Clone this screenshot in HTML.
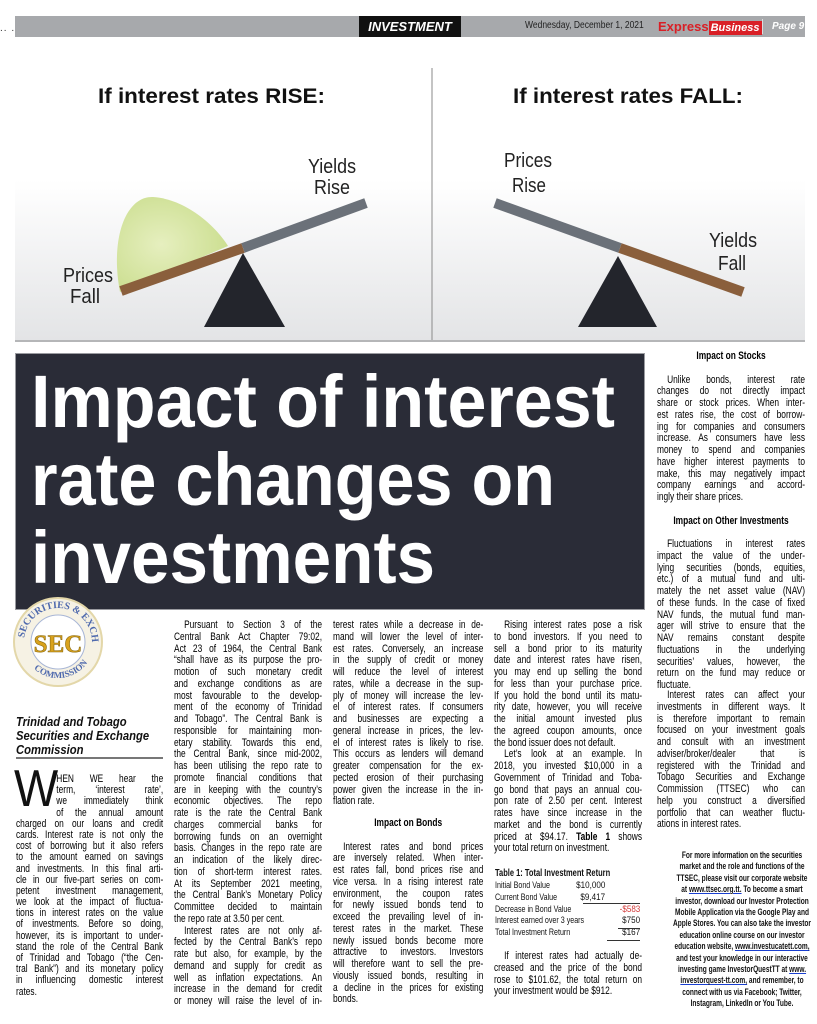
<!DOCTYPE html>
<html style="height:1024px;overflow:hidden"><head><meta charset="utf-8">
<style>
*{margin:0;padding:0;box-sizing:border-box}
body{width:817px;height:1024px;background:#fff;position:relative;overflow:hidden;font-family:"Liberation Sans",Arial,sans-serif;color:#000}
.abs{position:absolute}
.col{position:absolute;transform-origin:0 0;font-size:10.8px;line-height:11.75px}
.col div{height:11.75px;overflow:hidden;text-align:justify;text-align-last:justify;white-space:normal}
.col div.e{text-align-last:left}
.col div.i{text-indent:13px}
.col div.c{text-align:center;text-align-last:center;font-weight:bold}
.small{position:absolute;transform-origin:0 0;font-size:9.4px;line-height:11.4px;text-align:center;font-weight:bold;color:#111;white-space:nowrap}
.small a{color:#111;text-decoration:underline;text-decoration-color:#1a3fd0}
</style></head><body>

<!-- header -->
<div class="abs" style="left:0;top:23px;font-size:10px;letter-spacing:1px;color:#333">.. . . . .. . .</div>
<div class="abs" style="left:15px;top:16px;width:790px;height:21px;background:#a7a9ac"></div>
<div class="abs" style="left:359px;top:16px;width:102px;height:21px;background:#111;color:#fff;font-weight:bold;font-style:italic;font-size:13px;line-height:21px;text-align:center">INVESTMENT</div>
<div class="abs" style="left:525px;top:19px;font-size:10px;color:#222;line-height:14px;transform:scaleX(.85);transform-origin:0 0;white-space:nowrap">Wednesday, December 1, 2021</div>
<div class="abs" style="left:658px;top:18px;height:17px;width:97px;font-weight:bold;font-size:13px;line-height:17px;white-space:nowrap"><span style="color:#d91f26">Express</span><span style="background:#d91f26;color:#fff;font-style:italic;font-size:11px;padding:1px 2px">Business</span></div>
<div class="abs" style="left:762px;top:19px;width:1px;height:15px;background:#ddd"></div>
<div class="abs" style="left:772px;top:19px;font-size:10px;color:#fff;font-weight:bold;font-style:italic;line-height:15px">Page 9</div>

<!-- graphic -->
<svg class="abs" style="left:0;top:0" width="817" height="345">
<defs>
<linearGradient id="bg" x1="0" y1="0" x2="0" y2="1"><stop offset="0" stop-color="#fff"/><stop offset="1" stop-color="#e3e4e6"/></linearGradient>
<radialGradient id="gr" cx="0.4" cy="0.5" r="0.7"><stop offset="0" stop-color="#e6efbf"/><stop offset="1" stop-color="#c8dc8a"/></radialGradient>
</defs>
<rect x="15" y="180" width="790" height="160" fill="url(#bg)"/>
<line x1="15" y1="341" x2="805" y2="341" stroke="#b5b6b8" stroke-width="2"/>
<line x1="432" y1="68" x2="432" y2="340" stroke="#8a8a8a" stroke-width="1"/>
<text x="98" y="103" font-size="21" font-weight="bold" fill="#111" textLength="227" lengthAdjust="spacingAndGlyphs">If interest rates RISE:</text>
<text x="513" y="103" font-size="21" font-weight="bold" fill="#111" textLength="230" lengthAdjust="spacingAndGlyphs">If interest rates FALL:</text>
<path d="M120,292 C110,240 125,196 153,197 C185,199 215,225 228,246 Z" fill="url(#gr)"/>
<line x1="121" y1="291" x2="243" y2="248" stroke="#8a5f3c" stroke-width="10"/>
<line x1="243" y1="248" x2="366" y2="203" stroke="#6b7179" stroke-width="10"/>
<polygon points="243,253 204,327 285,327" fill="#23252c"/>
<line x1="495" y1="203" x2="620" y2="248" stroke="#6b7179" stroke-width="10"/>
<line x1="620" y1="248" x2="743" y2="292" stroke="#8a5f3c" stroke-width="10"/>
<polygon points="618,256 578,327 657,327" fill="#23252c"/>
<g font-size="20" fill="#222">
<text x="63" y="282" textLength="50" lengthAdjust="spacingAndGlyphs">Prices</text>
<text x="70" y="303" textLength="30" lengthAdjust="spacingAndGlyphs">Fall</text>
<text x="308" y="173" textLength="48" lengthAdjust="spacingAndGlyphs">Yields</text>
<text x="314" y="194" textLength="36" lengthAdjust="spacingAndGlyphs">Rise</text>
<text x="504" y="167" textLength="48" lengthAdjust="spacingAndGlyphs">Prices</text>
<text x="512" y="192" textLength="34" lengthAdjust="spacingAndGlyphs">Rise</text>
<text x="709" y="247" textLength="48" lengthAdjust="spacingAndGlyphs">Yields</text>
<text x="718" y="270" textLength="28" lengthAdjust="spacingAndGlyphs">Fall</text>
</g>
</svg>

<!-- title box -->
<svg class="abs" style="left:15px;top:353px" width="630" height="258">
<rect x="0.5" y="0.5" width="629" height="256" fill="#2a2c37" stroke="#9a9ba0"/>
<g fill="#fff" font-weight="bold" font-size="74">
<text x="16" y="74" textLength="584" lengthAdjust="spacingAndGlyphs">Impact of interest</text>
<text x="16" y="152" textLength="524" lengthAdjust="spacingAndGlyphs">rate changes on</text>
<text x="16" y="230" textLength="404" lengthAdjust="spacingAndGlyphs">investments</text>
</g>
</svg>

<!-- logo -->
<svg class="abs" style="left:12px;top:596px" width="92" height="92" viewBox="0 0 92 92">
<defs><path id="tp" d="M46,46 m-34,0 a34,34 0 1,1 68,0"/><path id="bp" d="M46,46 m-36,0 a36,36 0 0,0 72,0"/></defs>
<circle cx="46" cy="46" r="44" fill="#f6f2e4" stroke="#e3d7a9" stroke-width="2"/>
<circle cx="46" cy="46" r="27" fill="#fff" stroke="#a8b6d6" stroke-width="1"/>
<text font-size="10" font-weight="bold" fill="#4e69ad" font-family="Liberation Serif,serif"><textPath href="#tp" startOffset="4">SECURITIES &amp; EXCHANGE</textPath></text>
<text font-size="9" font-weight="bold" fill="#4e69ad" font-family="Liberation Serif,serif"><textPath href="#bp" startOffset="30">COMMISSION</textPath></text>
<text x="46" y="56" font-size="25" font-weight="bold" text-anchor="middle" fill="#d9a21d" stroke="#8a6a10" stroke-width=".6" font-family="Liberation Serif,serif">SEC</text>
</svg>

<!-- col1 heading -->
<div class="abs" style="left:16px;top:715px;font-size:12.5px;line-height:14px;font-weight:bold;font-style:italic;color:#111;transform:scaleX(.9);transform-origin:0 0;width:180px">Trinidad and Tobago<br>Securities and Exchange<br>Commission</div>
<div class="abs" style="left:16px;top:757px;width:147px;height:2px;background:#777"></div>
<div class="abs" style="left:14px;top:764px;font-size:52px;line-height:50px;color:#111;transform:scaleX(.9);transform-origin:0 0">W</div>

<div class="col" style="left:16px;top:774px;width:190px;transform:scaleX(.775);line-height:11.2px">
<div style="margin-left:52px;height:11.2px">HEN WE hear the</div>
<div style="margin-left:52px;height:11.2px">term, ‘interest rate’,</div>
<div style="margin-left:52px;height:11.2px">we immediately think</div>
<div style="margin-left:52px;height:11.2px">of the annual amount</div>
<div style="height:11.2px">charged on our loans and credit</div>
<div style="height:11.2px">cards. Interest rate is not only the</div>
<div style="height:11.2px">cost of borrowing but it also refers</div>
<div style="height:11.2px">to the amount earned on savings</div>
<div style="height:11.2px">and investments. In this final arti-</div>
<div style="height:11.2px">cle in our five-part series on com-</div>
<div style="height:11.2px">petent investment management,</div>
<div style="height:11.2px">we look at the impact of fluctua-</div>
<div style="height:11.2px">tions in interest rates on the value</div>
<div style="height:11.2px">of investments. Before so doing,</div>
<div style="height:11.2px">however, its is important to under-</div>
<div style="height:11.2px">stand the role of the Central Bank</div>
<div style="height:11.2px">of Trinidad and Tobago (“the Cen-</div>
<div style="height:11.2px">tral Bank”) and its monetary policy</div>
<div style="height:11.2px">in influencing domestic interest</div>
<div class="e" style="height:11.2px">rates.</div>
</div>

<div class="col" style="left:174px;top:620px;width:191px;transform:scaleX(.775)">
<div class="i">Pursuant to Section 3 of the</div>
<div>Central Bank Act Chapter 79:02,</div>
<div>Act 23 of 1964, the Central Bank</div>
<div>“shall have as its purpose the pro-</div>
<div>motion of such monetary credit</div>
<div>and exchange conditions as are</div>
<div>most favourable to the develop-</div>
<div>ment of the economy of Trinidad</div>
<div>and Tobago”. The Central Bank is</div>
<div>responsible for maintaining mon-</div>
<div>etary stability. Towards this end,</div>
<div>the Central Bank, since mid-2002,</div>
<div>has been utilising the repo rate to</div>
<div>promote financial conditions that</div>
<div>are in keeping with the country’s</div>
<div>economic objectives. The repo</div>
<div>rate is the rate the Central Bank</div>
<div>charges commercial banks for</div>
<div>borrowing funds on an overnight</div>
<div>basis. Changes in the repo rate are</div>
<div>an indication of the likely direc-</div>
<div>tion of short-term interest rates.</div>
<div>At its September 2021 meeting,</div>
<div>the Central Bank’s Monetary Policy</div>
<div>Committee decided to maintain</div>
<div class="e">the repo rate at 3.50 per cent.</div>
<div class="i">Interest rates are not only af-</div>
<div>fected by the Central Bank’s repo</div>
<div>rate but also, for example, by the</div>
<div>demand and supply for credit as</div>
<div>well as inflation expectations. An</div>
<div>increase in the demand for credit</div>
<div>or money will raise the level of in-</div>
</div>

<div class="col" style="left:333px;top:620px;width:194px;transform:scaleX(.775)">
<div>terest rates while a decrease in de-</div>
<div>mand will lower the level of inter-</div>
<div>est rates. Conversely, an increase</div>
<div>in the supply of credit or money</div>
<div>will reduce the level of interest</div>
<div>rates, while a decrease in the sup-</div>
<div>ply of money will increase the lev-</div>
<div>el of interest rates. If consumers</div>
<div>and businesses are expecting a</div>
<div>general increase in prices, the lev-</div>
<div>el of interest rates is likely to rise.</div>
<div>This occurs as lenders will demand</div>
<div>greater compensation for the ex-</div>
<div>pected erosion of their purchasing</div>
<div>power given the increase in the in-</div>
<div class="e">flation rate.</div>
</div>
<div class="col" style="left:333px;top:818px;width:194px;transform:scaleX(.775);line-height:11.85px">
<div class="c">Impact on Bonds</div>
<div></div>
<div class="i">Interest rates and bond prices</div>
<div>are inversely related. When inter-</div>
<div>est rates fall, bond prices rise and</div>
<div>vice versa. In a rising interest rate</div>
<div>environment, the coupon rates</div>
<div>for newly issued bonds tend to</div>
<div>exceed the prevailing level of in-</div>
<div>terest rates in the market. These</div>
<div>newly issued bonds become more</div>
<div>attractive to investors. Investors</div>
<div>will therefore want to sell the pre-</div>
<div>viously issued bonds, resulting in</div>
<div>a decline in the prices for existing</div>
<div class="e">bonds.</div>
</div>

<div class="col" style="left:494px;top:620px;width:191px;transform:scaleX(.775);line-height:11.63px">
<div class="i">Rising interest rates pose a risk</div>
<div>to bond investors. If you need to</div>
<div>sell a bond prior to its maturity</div>
<div>date and interest rates have risen,</div>
<div>you may end up selling the bond</div>
<div>for less than your purchase price.</div>
<div>If you hold the bond until its matu-</div>
<div>rity date, however, you will receive</div>
<div>the initial amount invested plus</div>
<div>the agreed coupon amounts, once</div>
<div class="e">the bond issuer does not default.</div>
<div class="i">Let’s look at an example. In</div>
<div>2018, you invested $10,000 in a</div>
<div>Government of Trinidad and Toba-</div>
<div>go bond that pays an annual cou-</div>
<div>pon rate of 2.50 per cent. Interest</div>
<div>rates have since increase in the</div>
<div>market and the bond is currently</div>
<div>priced at $94.17. <b>Table 1</b> shows</div>
<div class="e">your total return on investment.</div>
</div>

<!-- table -->
<div class="abs" style="left:495px;top:868px;font-size:10px;line-height:12px;transform:scaleX(.75);transform-origin:0 0;width:200px;color:#111;white-space:nowrap">
<div style="font-weight:bold">Table 1: Total Investment Return</div>
</div>
<div class="abs" style="left:495px;top:880px;width:146px;font-size:9.5px;line-height:11.8px;color:#111">
<div style="position:relative;height:11.8px"><span style="display:inline-block;transform:scaleX(.75);transform-origin:0 0;white-space:nowrap">Initial Bond Value</span><span style="position:absolute;right:36px;top:0;transform:scaleX(.85);transform-origin:100% 0">$10,000</span></div>
<div style="position:relative;height:11.8px"><span style="display:inline-block;transform:scaleX(.75);transform-origin:0 0;white-space:nowrap">Current Bond Value</span><span style="position:absolute;right:36px;top:0;transform:scaleX(.85);transform-origin:100% 0">$9,417</span></div>
<div style="position:relative;height:11.8px"><span style="display:inline-block;transform:scaleX(.75);transform-origin:0 0;white-space:nowrap">Decrease in Bond Value</span><span style="position:absolute;right:1px;top:0;color:#d23a3a;transform:scaleX(.85);transform-origin:100% 0">-$583</span></div>
<div style="position:relative;height:11.8px"><span style="display:inline-block;transform:scaleX(.75);transform-origin:0 0;white-space:nowrap">Interest earned over 3 years</span><span style="position:absolute;right:1px;top:0;transform:scaleX(.85);transform-origin:100% 0">$750</span></div>
<div style="position:relative;height:11.8px"><span style="display:inline-block;transform:scaleX(.75);transform-origin:0 0;white-space:nowrap">Total Investment Return</span><span style="position:absolute;right:1px;top:0;transform:scaleX(.85);transform-origin:100% 0">$167</span></div>
</div>
<div class="abs" style="left:583px;top:903px;width:57px;height:1px;background:#333"></div>
<div class="abs" style="left:618px;top:928px;width:22px;height:1px;background:#333"></div>
<div class="abs" style="left:607px;top:940px;width:33px;height:1px;background:#333"></div>

<div class="col" style="left:494px;top:951px;width:191px;transform:scaleX(.775);line-height:11.6px">
<div class="i">If interest rates had actually de-</div>
<div>creased and the price of the bond</div>
<div>rose to $101.62, the total return on</div>
<div class="e">your investment would be $912.</div>
</div>

<!-- right column -->
<div class="col" style="left:657px;top:351px;width:191px;transform:scaleX(.775);line-height:11.9px">
<div class="c">Impact on Stocks</div>
<div></div>
<div class="i">Unlike bonds, interest rate</div>
<div>changes do not directly impact</div>
<div>share or stock prices. When inter-</div>
<div>est rates rise, the cost of borrow-</div>
<div>ing for companies and consumers</div>
<div>increase. As consumers have less</div>
<div>money to spend and companies</div>
<div>have higher interest payments to</div>
<div>make, this may negatively impact</div>
<div>company earnings and accord-</div>
<div class="e">ingly their share prices.</div>
<div></div>
<div class="c">Impact on Other Investments</div>
</div>
<div class="col" style="left:657px;top:539px;width:191px;transform:scaleX(.775);line-height:11.75px">
<div class="i">Fluctuations in interest rates</div>
<div>impact the value of the under-</div>
<div>lying securities (bonds, equities,</div>
<div>etc.) of a mutual fund and ulti-</div>
<div>mately the net asset value (NAV)</div>
<div>of these funds. In the case of fixed</div>
<div>NAV funds, the mutual fund man-</div>
<div>ager will strive to ensure that the</div>
<div>NAV remains constant despite</div>
<div>fluctuations in the underlying</div>
<div>securities’ values, however, the</div>
<div>return on the fund may reduce or</div>
<div class="e">fluctuate.</div>
</div>
<div class="col" style="left:657px;top:690px;width:191px;transform:scaleX(.775);line-height:11.9px">
<div class="i">Interest rates can affect your</div>
<div>investments in different ways. It</div>
<div>is therefore important to remain</div>
<div>focused on your investment goals</div>
<div>and consult with an investment</div>
<div>adviser/broker/dealer that is</div>
<div>registered with the Trinidad and</div>
<div>Tobago Securities and Exchange</div>
<div>Commission (TTSEC) who can</div>
<div>help you construct a diversified</div>
<div>portfolio that can weather fluctu-</div>
<div class="e">ations in interest rates.</div>
</div>

<div class="small" style="left:672px;top:849px;width:200px;transform:scaleX(.7)">
For more information on the securities<br>
market and the role and functions of the<br>
TTSEC, please visit our corporate website<br>
at <a>www.ttsec.org.tt.</a> To become a smart<br>
investor, download our Investor Protection<br>
Mobile Application via the Google Play and<br>
Apple Stores. You can also take the investor<br>
education online course on our investor<br>
education website, <a>www.investucatett.com,</a><br>
and test your knowledge in our interactive<br>
investing game InvestorQuestTT at <a>www.</a><br>
<a>investorquest-tt.com,</a> and remember, to<br>
connect with us via Facebook; Twitter,<br>
Instagram, LinkedIn or You Tube.
</div>

</body></html>
